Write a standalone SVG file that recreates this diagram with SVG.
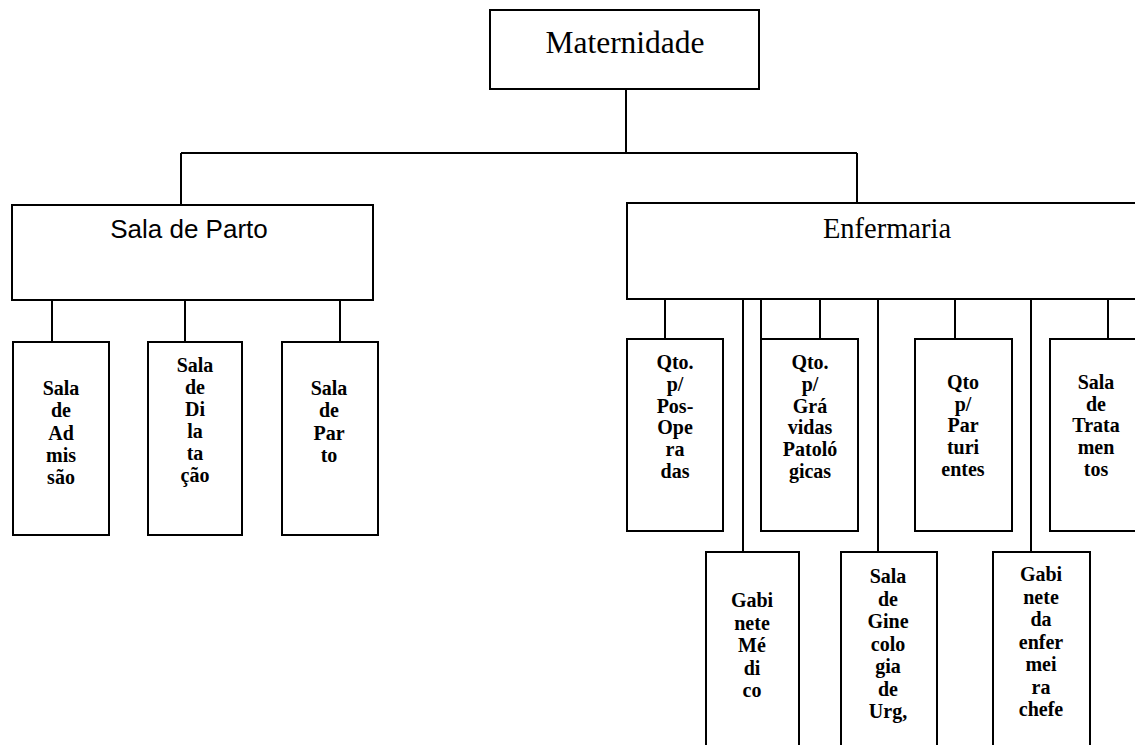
<svg xmlns="http://www.w3.org/2000/svg" width="1135" height="745" viewBox="0 0 1135 745">
<style>
.box{fill:#fff;stroke:#000;stroke-width:2}
.open{fill:none;stroke:#000;stroke-width:2}
.ln{fill:none;stroke:#000;stroke-width:2}
.t{font-family:"Liberation Serif",serif;font-size:20px;font-weight:bold;text-anchor:middle;fill:#000}
.big{font-family:"Liberation Serif",serif;text-anchor:middle;fill:#000}
.sans{font-family:"Liberation Sans",Arial,sans-serif;text-anchor:middle;fill:#000}
</style>
<rect width="1135" height="745" fill="#fff"/>
<g id="connectors">
<path class="ln" d="M626 89V153M181 153H857M181 153V205M857 153V203"/>
<path class="ln" d="M52 300V342M185 300V342M340 300V342"/>
<path class="ln" d="M665 299V339M761 299V339M820 299V339M955 299V339M1108 299V339"/>
<path class="ln" d="M743 299V552M878 299V552M1031 299V552"/>
</g>
<g id="maternidade">
<rect class="box" x="490" y="10" width="269" height="79"/>
<text class="big" x="625" y="53" font-size="31.5">Maternidade</text>
</g>
<g id="sala-de-parto">
<rect class="box" x="12" y="205" width="361" height="95"/>
<text class="sans" x="189" y="238" font-size="26">Sala de Parto</text>
</g>
<g id="enfermaria">
<rect class="box" x="627" y="203" width="520" height="96"/>
<text class="big" x="887" y="238" font-size="28.5">Enfermaria</text>
</g>
<g id="sala-admissao">
<rect class="box" x="13" y="342" width="96" height="193"/>
<text class="t"><tspan x="61" y="395">Sala</tspan><tspan x="61" y="417">de</tspan><tspan x="61" y="440">Ad</tspan><tspan x="61" y="462">mis</tspan><tspan x="61" y="484">são</tspan></text>
</g>
<g id="sala-dilatacao">
<rect class="box" x="148" y="342" width="94" height="193"/>
<text class="t"><tspan x="195" y="372">Sala</tspan><tspan x="195" y="394">de</tspan><tspan x="195" y="416">Di</tspan><tspan x="195" y="438">la</tspan><tspan x="195" y="460">ta</tspan><tspan x="195" y="482">ção</tspan></text>
</g>
<g id="sala-parto-sub">
<rect class="box" x="282" y="342" width="96" height="193"/>
<text class="t"><tspan x="329" y="395">Sala</tspan><tspan x="329" y="417">de</tspan><tspan x="329" y="440">Par</tspan><tspan x="329" y="462">to</tspan></text>
</g>
<g id="qto-pos-operadas">
<rect class="box" x="627" y="339" width="96" height="192"/>
<text class="t"><tspan x="675" y="369">Qto.</tspan><tspan x="675" y="391">p/</tspan><tspan x="675" y="413">Pos-</tspan><tspan x="675" y="434">Ope</tspan><tspan x="675" y="456">ra</tspan><tspan x="675" y="478">das</tspan></text>
</g>
<g id="qto-gravidas">
<rect class="box" x="761" y="339" width="97" height="192"/>
<text class="t"><tspan x="810" y="369">Qto.</tspan><tspan x="810" y="391">p/</tspan><tspan x="810" y="413">Grá</tspan><tspan x="810" y="434">vidas</tspan><tspan x="810" y="456">Patoló</tspan><tspan x="810" y="478">gicas</tspan></text>
</g>
<g id="qto-parturientes">
<rect class="box" x="915" y="339" width="97" height="192"/>
<text class="t"><tspan x="963" y="389">Qto</tspan><tspan x="963" y="411">p/</tspan><tspan x="963" y="432">Par</tspan><tspan x="963" y="454">turi</tspan><tspan x="963" y="476">entes</tspan></text>
</g>
<g id="sala-tratamentos">
<rect class="box" x="1050" y="339" width="97" height="192"/>
<text class="t"><tspan x="1096" y="389">Sala</tspan><tspan x="1096" y="411">de</tspan><tspan x="1096" y="432">Trata</tspan><tspan x="1096" y="454">men</tspan><tspan x="1096" y="476">tos</tspan></text>
</g>
<g id="gabinete-medico">
<rect class="box" x="706" y="552" width="93" height="200"/>
<text class="t"><tspan x="752" y="607">Gabi</tspan><tspan x="752" y="630">nete</tspan><tspan x="752" y="652">Mé</tspan><tspan x="752" y="675">di</tspan><tspan x="752" y="697">co</tspan></text>
</g>
<g id="sala-ginecologia">
<rect class="box" x="841" y="552" width="96" height="200"/>
<text class="t"><tspan x="888" y="583">Sala</tspan><tspan x="888" y="606">de</tspan><tspan x="888" y="628">Gine</tspan><tspan x="888" y="651">colo</tspan><tspan x="888" y="673">gia</tspan><tspan x="888" y="696">de</tspan><tspan x="888" y="718">Urg,</tspan></text>
</g>
<g id="gabinete-enfermeira">
<rect class="box" x="993" y="552" width="97" height="200"/>
<text class="t"><tspan x="1041" y="581">Gabi</tspan><tspan x="1041" y="604">nete</tspan><tspan x="1041" y="626">da</tspan><tspan x="1041" y="649">enfer</tspan><tspan x="1041" y="671">mei</tspan><tspan x="1041" y="694">ra</tspan><tspan x="1041" y="716">chefe</tspan></text>
</g>
</svg>
